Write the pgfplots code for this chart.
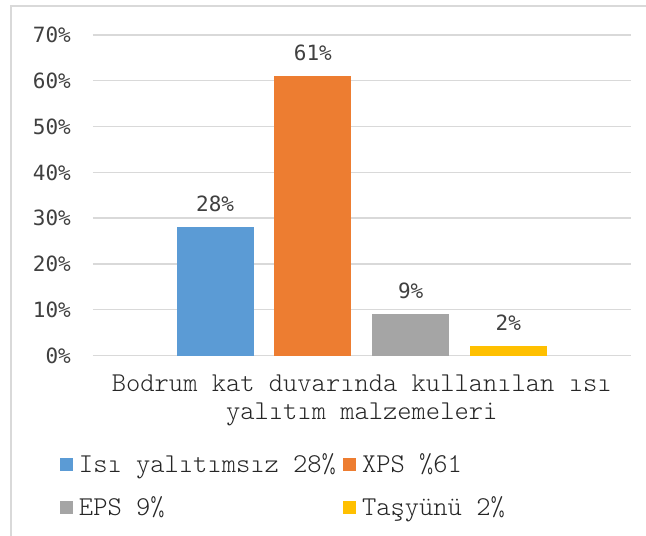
\documentclass[border=0pt]{standalone}
\usepackage{fontspec}
\usepackage{pgfplots}
\pgfplotsset{compat=1.18}
\newfontfamily\cour{Latin Modern Mono Light}
\newfontfamily\tickfont{DejaVu Sans Mono}
\definecolor{cblue}{HTML}{5B9BD5}
\definecolor{corange}{HTML}{ED7D31}
\definecolor{cgray}{HTML}{A5A5A5}
\definecolor{cyellow}{HTML}{FFC000}
\definecolor{gridc}{HTML}{D9D9D9}
\definecolor{framec}{HTML}{D9D9D9}
\definecolor{txt}{HTML}{404040}
\begin{document}
\begin{tikzpicture}
\path[use as bounding box] (0pt,0pt) rectangle (646pt,536pt);
\draw[color=framec, line width=1.5pt] (11pt,0pt) -- (11pt,530pt) -- (646pt,530pt);
\begin{axis}[
  at={(93pt,180.5pt)}, anchor=south west,
  scale only axis, width=537.5pt, height=320.5pt,
  xmin=-0.5, xmax=0.5, ymin=0, ymax=70,
  ybar, bar width=77pt,
  ytick={0,10,...,70},
  yticklabel={\pgfmathprintnumber{\tick}\%},
  xtick={0},
  xticklabels={Bodrum kat duvarında kullanılan ısı\\yalıtım malzemeleri},
  ymajorgrids, grid style={color=gridc, line width=1.3pt},
  axis line style={draw=none},
  major tick length=0pt,
  tick style={draw=none},
  /pgf/number format/assume math mode=true,
  yticklabel style={font=\fontsize{21}{25}\tickfont, text=txt, anchor=east, inner sep=0pt, xshift=-22pt},
  xticklabel style={font=\fontsize{27.2}{28}\cour, text=black!85, align=center, anchor=north, inner sep=0pt, yshift=-19pt},
  nodes near coords={\pgfmathprintnumber{\pgfplotspointmeta}\%},
  every node near coord/.append style={font=\fontsize{21}{25}\tickfont, text=txt, anchor=base, yshift=16pt, inner sep=0pt},
  legend image code/.code={\fill[#1] (0pt,-6.3pt) rectangle (12.7pt,6.3pt);},
  legend style={at={(-0.0614,-0.3136)}, anchor=north west, draw=none, fill=none,
    inner sep=0pt, outer sep=0pt, font=\fontsize{27.2}{28}\cour, text=black!85,
    nodes={inner sep=0pt, text height=16.6pt, text depth=0pt},
    /tikz/every odd column/.append style={column sep=6.3pt},
    /tikz/every even column/.append style={column sep=7pt},
    row sep=26.4pt},
  legend columns=2,
  legend cell align=left,
]
\addplot[fill=cblue, draw=none, bar shift=-146.6pt] coordinates {(0,28)};
\addplot[fill=corange, draw=none, bar shift=-48.9pt] coordinates {(0,61)};
\addplot[fill=cgray, draw=none, bar shift=48.9pt] coordinates {(0,9)};
\addplot[fill=cyellow, draw=none, bar shift=146.6pt] coordinates {(0,2)};
\legend{Isı yalıtımsız 28\%, XPS \%61, EPS 9\%, Taşyünü 2\%}
\end{axis}
\end{tikzpicture}
\end{document}
